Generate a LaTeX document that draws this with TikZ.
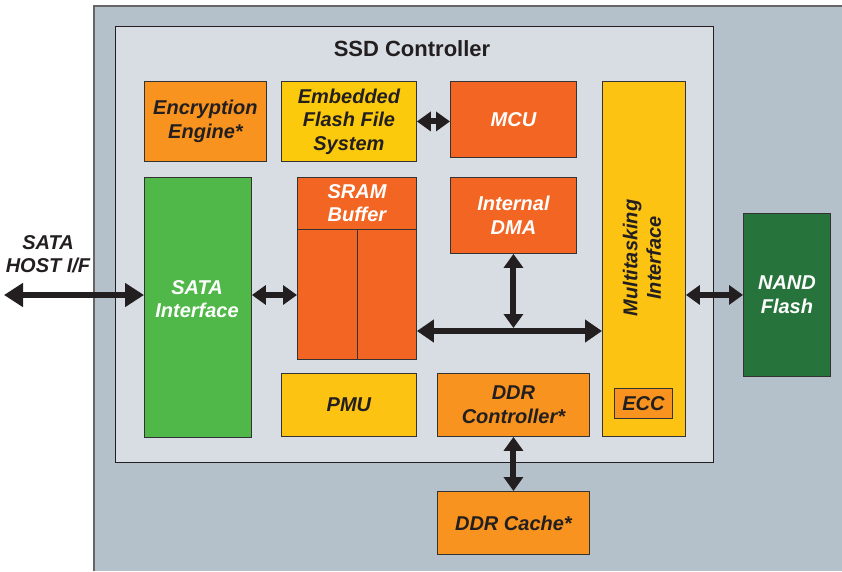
\documentclass[tikz,border=0pt]{standalone}
\usepackage{fontspec}
\setmainfont{Liberation Sans}
\usetikzlibrary{arrows.meta}
\definecolor{outerbg}{HTML}{B4C1CA}
\definecolor{innerbg}{HTML}{D8DDE3}
\definecolor{orng}{HTML}{F7931E}
\definecolor{yel}{HTML}{FCCA0C}
\definecolor{yelb}{HTML}{FDC312}
\definecolor{redo}{HTML}{F26522}
\definecolor{grn}{HTML}{50B848}
\definecolor{dgrn}{HTML}{26743B}
\definecolor{ink}{HTML}{231F20}
\definecolor{edge}{HTML}{333333}
\tikzset{
  blk/.style={draw=edge, line width=0.9pt, anchor=north west, inner sep=0pt, align=center,
    font=\fontsize{20}{23.5}\selectfont\bfseries\itshape, text=ink},
  wtxt/.style={text=white},
  lbl/.style={align=center, inner sep=0pt, font=\fontsize{20}{23.5}\selectfont\bfseries\itshape, text=ink},
  bigarr/.style={line width=6pt, draw=ink, {Triangle[length=19pt,width=23pt]}-{Triangle[length=19pt,width=23pt]}},
  busarr/.style={line width=6pt, draw=ink, {Triangle[length=17pt,width=22pt]}-{Triangle[length=17pt,width=22pt]}},
  smarr/.style={line width=6pt, draw=ink, {Triangle[length=14pt,width=19pt]}-{Triangle[length=14pt,width=19pt]}}
}
\begin{document}
\begin{tikzpicture}[x=1pt,y=-1pt]
\useasboundingbox (0,0) rectangle (842,571);
% outer background
\fill[outerbg] (94,6) rectangle (842,571);
\draw[line width=1.2pt, draw=gray!80!black] (94,571) -- (94,6) -- (842,6);
% inner controller box
\node[draw=ink, line width=1.2pt, fill=innerbg, anchor=north west, minimum width=598, minimum height=436, inner sep=0pt] (ctrl) at (115,26) {};
\node[font=\fontsize{22}{26}\selectfont\bfseries, text=ink, inner sep=0pt] (title) at (412,49) {SSD Controller};
% blocks
\node[blk, fill=orng, minimum width=122, minimum height=80] (enc) at (144,81) {Encryption\\Engine*};
\node[blk, fill=yel, minimum width=135, minimum height=80] (efs) at (281,81) {Embedded\\Flash File\\System};
\node[blk, fill=redo, wtxt, minimum width=126, minimum height=76] (mcu) at (450,81) {MCU};
\node[blk, fill=redo, wtxt, minimum width=126, minimum height=76] (dma) at (450,177) {Internal\\DMA};
\node[blk, fill=yelb, minimum width=83, minimum height=355] (multi) at (602,81) {};
\node[lbl, rotate=90] (multitext) at (642,258) {Multitasking\\Interface};
\node[blk, fill=orng, minimum width=58, minimum height=30] (ecc) at (614,388) {ECC};
\node[blk, fill=grn, minimum width=107, minimum height=260] (sata) at (144,177) {};
\node[lbl, text=white] (satatext) at (197,299) {SATA\\Interface};
\node[blk, fill=redo, minimum width=119, minimum height=182] (sram) at (297,177) {};
\draw[edge, line width=0.9pt] (sram.west |- 0,229) -- (sram.east |- 0,229);
\draw[edge, line width=0.9pt] (sram.south) -- (sram.south |- 0,229);
\node[lbl, text=white] (sramtext) at (357,203) {SRAM\\Buffer};
\node[blk, fill=yelb, minimum width=135, minimum height=63] (pmu) at (281,373) {PMU};
\node[blk, fill=orng, minimum width=152, minimum height=63] (ddrc) at (437,373) {DDR\\Controller*};
\node[blk, fill=orng, minimum width=152, minimum height=63] (ddrm) at (437,491) {DDR Cache*};
\node[blk, fill=dgrn, wtxt, minimum width=87, minimum height=163] (nand) at (743,213) {NAND\\Flash};
\node[lbl] (host) at (48,254) {SATA\\HOST I/F};
% connectors
\coordinate (hostend) at (4,295);
\coordinate (busy) at (0,331);
\draw[bigarr] (hostend) -- (sata.west |- hostend);
\draw[smarr] (sata.east |- hostend) -- (sram.west |- hostend);
\draw[smarr] (efs.east) -- (mcu.west |- efs.east);
\draw[busarr] (sram.east |- busy) -- (multi.west |- busy);
\draw[smarr, shorten >=3pt] (dma.south) -- (dma.south |- busy);
\draw[smarr] (multi.east |- nand.west) -- (nand.west);
\draw[smarr] (ddrc.south) -- (ddrm.north);
\end{tikzpicture}
\end{document}
